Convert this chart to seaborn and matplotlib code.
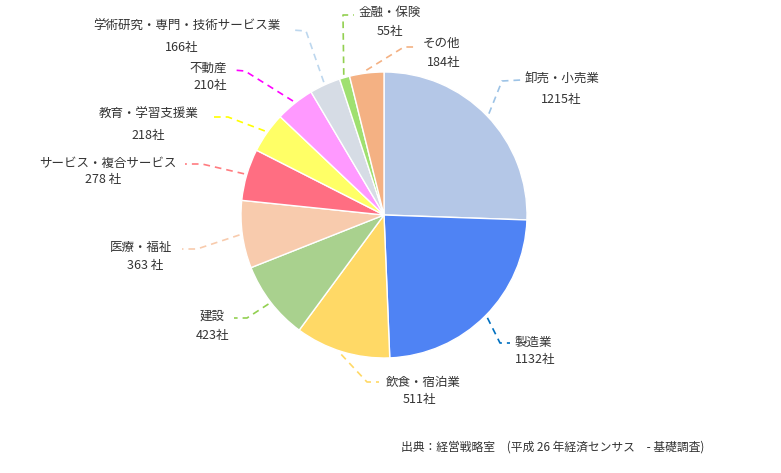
import matplotlib
matplotlib.use("Agg")
import matplotlib.pyplot as plt
import seaborn as sns
import numpy as np

sns.set_theme(style="white")
plt.rcParams['font.family'] = ['Noto Sans CJK JP', 'DejaVu Sans']

# data
industries = ['卸売・小売業', '製造業', '飲食・宿泊業', '建設', '医療・福祉',
              'サービス・複合サービス', '教育・学習支援業', '不動産',
              '学術研究・専門・技術サービス業', '金融・保険', 'その他']
counts = [1215, 1132, 511, 423, 363, 278, 218, 210, 166, 55, 184]
count_labels = ['1215社', '1132社', '511社', '423社', '363 社', '278 社',
                '218社', '210社', '166社', '55社', '184社']
source = '出典：経営戦略室　(平成 26 年経済センサス　- 基礎調査)'

slice_colors = ['#B4C7E7', '#4F83F4', '#FFD966', '#A9D18E', '#F8CBAD', '#FF6E82',
                '#FFFF66', '#FF99FF', '#D6DCE5', '#9FE070', '#F4B183']
line_colors = ['#9DC3E6', '#0070C0', '#FFD966', '#92D050', '#F8CBAD', '#FF7C80',
               '#FFFF00', '#FF00FF', '#BDD7EE', '#92D050', '#F4B183']

# label layout in image pixels: name pos, count pos, elbow, line end
layout = [
    ((562, 79), (561, 99), (502, 81), (521, 80)),
    ((533, 342), (535, 359), (500, 343), (510, 343)),
    ((423, 382), (419, 400), (367, 382), (379, 382)),
    ((212, 316), (213, 335), (247, 318), (234, 318)),
    ((141, 247), (145, 265), (197, 249), (182, 249)),
    ((108, 163), (103, 179), (202, 164), (185, 164)),
    ((149, 114), (148, 135), (228, 117), (212, 117)),
    ((208, 68), (210, 85), (245, 71), (233, 70)),
    ((187, 26), (182, 47), (306, 31), (292, 30)),
    ((390, 12), (390, 31), (343, 15), (354, 15)),
    ((441, 43), (444, 62), (404, 47), (415, 47)),
]

W, H = 781, 473
def fy(y):
    return H - y

fig = plt.figure(figsize=(7.81, 4.73), dpi=100)
ax = fig.add_axes([0, 0, 1, 1])

cx, cy, r = 384, fy(215), 143
wedges, _ = ax.pie(counts, colors=slice_colors, startangle=90, counterclock=False,
                   center=(cx, cy), radius=r,
                   wedgeprops=dict(edgecolor='white', linewidth=1))

for w, name, cl, lc, (npos, cpos, elbow, end) in zip(
        wedges, industries, count_labels, line_colors, layout):
    th = np.deg2rad((w.theta1 + w.theta2) / 2)
    sx = cx + r * 1.02 * np.cos(th)
    sy = cy + r * 1.02 * np.sin(th)
    ax.plot([sx, elbow[0], end[0]], [sy, fy(elbow[1]), fy(end[1])],
            color=lc, lw=1.2, ls=(0, (4, 3)))
    ax.text(npos[0], fy(npos[1]), name, ha='center', va='center',
            fontsize=9, color='#333333')
    ax.text(cpos[0], fy(cpos[1]), cl, ha='center', va='center',
            fontsize=9, color='#333333')

ax.text(401, fy(447), source, ha='left', va='center', fontsize=8.5, color='#333333')

ax.set_xlim(0, W)
ax.set_ylim(0, H)
ax.set_aspect('equal')
ax.axis('off')

fig.savefig('out.png', dpi=100)
